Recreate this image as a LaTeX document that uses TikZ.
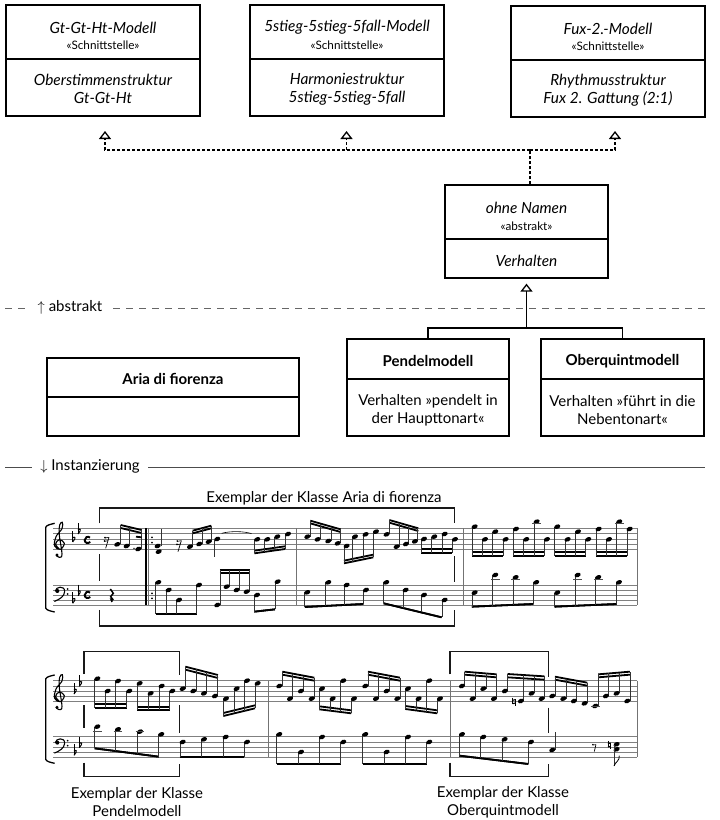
\documentclass[tikz,border=0pt]{standalone}
\usepackage{fontspec}
\setmainfont{Lato}
\usetikzlibrary{arrows.meta,calc}
\tikzset{x=1pt,y=-1pt,
 umlbox/.style={draw=black,line width=1.3pt,fill=white,inner sep=0pt,minimum width=#1},
 t1/.style={font=\fontsize{15.4}{18}\selectfont\itshape,align=center,inner sep=0pt},
 t2/.style={font=\fontsize{11.7}{13}\selectfont,inner sep=0pt},
 t3/.style={font=\fontsize{15}{18}\selectfont,align=center,inner sep=0pt},
 t4/.style={font=\fontsize{15}{18}\selectfont\bfseries,inner sep=0pt},
 div/.style={line width=1.1pt},
 real/.style={line width=1.3pt,dash pattern=on 3pt off 2pt},
 gen/.style={line width=1.3pt},
 tip/.style={-{Triangle[open,width=12pt,length=8pt,line width=1.3pt]}},
 stf/.style={line width=.6pt,black!50},
 bar/.style={line width=.7pt,black!55},
 stem/.style={line width=.6pt,black!80},
 beam/.style={line width=1.8pt,black},
 led/.style={line width=.7pt,black!70},
 brk/.style={line width=1.3pt,black!90},
 clef/.style={line width=1.1pt,black,line cap=round},
}
\newcommand\nh[2]{\fill[rotate around={22:(#1,#2)}] (#1,#2) ellipse [x radius=9.5,y radius=6.5];}
\newcommand\grp[7]{%
 \draw[beam] (#2,#3)--(#4,#5);
 \draw[beam] (#2,#3+#6)--(#4,#5+#6);
 \foreach \nx/\ny in {#7}{%
  \pgfmathsetmacro\ye{#3+(\nx+(#1)-#2)*(#5-#3)/(#4-#2)}%
  \draw[stem] (\nx+#1,\ny)--(\nx+#1,\ye);
  \nh{\nx}{\ny}}}
\newcommand\ledg[2]{\draw[led] (#1-13,#2)--(#1+13,#2);}
\newcommand\flt[2]{\draw[line width=.6pt] (#1,#2-24)--(#1,#2+9);
 \draw[line width=1pt] (#1,#2-3) .. controls (#1+5,#2-9) and (#1+13,#2-5) .. (#1,#2+9);}
\newcommand\mctime[2]{\draw[line width=1.9pt] (#1+8,#2-7) .. controls (#1+2,#2-13) and (#1-8,#2-8) .. (#1-8,#2) .. controls (#1-8,#2+9) and (#1+2,#2+12) .. (#1+9,#2+6);}
\newcommand\trebclef[1]{\begin{scope}[yshift=#1pt]
 \draw[clef] plot[smooth,tension=.65] coordinates {(177,206) (167,192) (178,179) (193,190) (181,208) (164,198) (168,170) (186,146) (187,127) (179,135) (178,165) (186,222) (178,232) (169,226)};
 \fill (171,225) circle [radius=5];
 \end{scope}}
\newcommand\bassclef[1]{\begin{scope}[yshift=#1pt]
 \fill (172,333) circle [radius=6];
 \draw[clef] (166,333) .. controls (167,320) and (195,315) .. (194,335) .. controls (193,350) and (178,358) .. (164,364);
 \fill (203,327) circle [radius=2.8]; \fill (203,342) circle [radius=2.8];
 \end{scope}}
\newcommand\sbrk[3]{\draw[line width=1.3pt] (#1+27,#2) .. controls (#1+14,#2+3) and (#1+3,#2+5) .. (#1,#2+12) -- (#1,#3-12) .. controls (#1+3,#3-5) and (#1+14,#3-3) .. (#1+27,#3);}
\newcommand\srest[2]{\draw[line width=.7pt] (#1+7,#2-13)--(#1-3,#2+20); \fill (#1-5,#2-12) circle [radius=2.8]; \fill (#1-6,#2-2) circle [radius=2.8];\draw[line width=.6pt] (#1-5,#2-11)--(#1+7,#2-13);\draw[line width=.6pt] (#1-6,#2-1)--(#1+4,#2-3);}
\newcommand\natsign[2]{\draw[line width=.6pt] (#1-4,#2-12)--(#1-4,#2+7) (#1+4,#2-7)--(#1+4,#2+12);\draw[line width=1.1pt] (#1-4,#2-4)--(#1+4,#2-6) (#1-4,#2+6)--(#1+4,#2+4);}
\begin{document}
\begin{tikzpicture}
\useasboundingbox (0,0) rectangle (720,820);
\fill[white] (0,0) rectangle (720,820);
% ---------- top interface boxes
\node[umlbox=194pt,minimum height=111pt] (b1) at (103,60.5) {};
\node[umlbox=194pt,minimum height=111pt] (b2) at (347,60.5) {};
\node[umlbox=194pt,minimum height=111pt] (b3) at (608,61.5) {};
\draw[div] (b1.west |- 0,59) -- (b1.east |- 0,59);
\draw[div] (b2.west |- 0,59) -- (b2.east |- 0,59);
\draw[div] (b3.west |- 0,60) -- (b3.east |- 0,60);
\node[t1] (n1) at (103,27.5) {Gt-Gt-Ht-Modell};
\node[t2] (s1) at (103,45.5) {«Schnittstelle»};
\node[t1] (o1) at (103,89) {Oberstimmenstruktur\\Gt-Gt-Ht};
\node[t1] (n2) at (347,27.5) {5stieg-5stieg-5fall-Modell};
\node[t2] (s2) at (347,45.5) {«Schnittstelle»};
\node[t1] (o2) at (347,89) {Harmoniestruktur\\5stieg-5stieg-5fall};
\node[t1] (n3) at (608,28.5) {Fux-2.-Modell};
\node[t2] (s3) at (608,46.5) {«Schnittstelle»};
\node[t1] (o3) at (608,90) {Rhythmusstruktur\\Fux 2. Gattung (2:1)};
% ---------- abstract box
\node[umlbox=163pt,minimum height=93pt] (b4) at (526.5,231.5) {};
\draw[div] (b4.west |- 0,239) -- (b4.east |- 0,239);
\node[t1] (n4) at (526.5,207.5) {ohne Namen};
\node[t2] (s4) at (526.5,226) {«abstrakt»};
\node[t1] (o4) at (526.5,260.5) {Verhalten};
% ---------- realisation connectors
\coordinate (a1) at (105,131);
\coordinate (a2) at (346.5,131);
\coordinate (a3) at (615,131);
\coordinate (j1) at (530,150);
\draw[real] (b4.north -| j1) -- (j1);
\draw[real,tip] (j1) -| (a1);
\draw[real,tip] (j1) -| (a3);
\draw[real,tip] (a2 |- j1) -- (a2);
% ---------- level lines
\node[t3] (lab1) at (70,307) {$\uparrow$ abstrakt};
\node[t3] (lab2) at (90,466) {$\downarrow$ Instanzierung};
\draw[line width=.9pt,black!60,dash pattern=on 6.5pt off 6.5pt] (5,308) -- (25,308) ;
\draw[line width=.9pt,black!60,dash pattern=on 6.5pt off 6.5pt] (113,308) -- (706,308);
\draw[line width=.9pt,black!70] (5,467) -- (32,467);
\draw[line width=.9pt,black!70] (148,467) -- (705,467);
% ---------- concrete boxes
\node[umlbox=252pt,minimum height=78pt] (b7) at (173,397) {};
\draw[div] (b7.west |- 0,397) -- (b7.east |- 0,397);
\node[t4] (n7) at (173,379) {Aria di fiorenza};
\node[umlbox=162pt,minimum height=97pt] (b5) at (428,387.5) {};
\draw[div] (b5.west |- 0,379) -- (b5.east |- 0,379);
\node[t4] (n5) at (428,361) {Pendelmodell};
\node[t3] (o5) at (428,410) {Verhalten »pendelt in\\der Haupttonart«};
\node[umlbox=163pt,minimum height=97pt] (b6) at (622.5,387.5) {};
\draw[div] (b6.west |- 0,379) -- (b6.east |- 0,379);
\node[t4] (n6) at (622.5,361) {Oberquintmodell};
\node[t3] (o6) at (622.5,410) {Verhalten »führt in die\\Nebentonart«};
\coordinate (j2) at (526.5,328);
\draw[gen] (b5.north) |- (j2) -| (b6.north);
\draw[gen,tip,shorten >=5pt] (j2) -- (b4.south);
% ---------- captions
\node[t3] (c1) at (324,498) {Exemplar der Klasse Aria di fiorenza};
\node[t3] (c2) at (137,802) {Exemplar der Klasse\\Pendelmodell};
\node[t3] (c3) at (503,802) {Exemplar der Klasse\\Oberquintmodell};
% ---------- system 1
\begin{scope}[shift={(0,480)},x=.3333pt,y=-.3333pt]
 \foreach \yy in {145,161,177,192,208,315,330,345,361,376}
   \draw[stf] (160,\yy)--(1912,\yy);
 \foreach \xx in {890,1390,1912} \draw[bar] (\xx,145)--(\xx,376);
 \draw[line width=2pt] (439,145)--(439,376);
 \draw[bar] (446,145)--(446,376);
 \foreach \yy in {172,188,340,355} \fill (456,\yy) circle [radius=3];
 \sbrk{137}{130}{396}
 \trebclef{0}
 \bassclef{0}
 \flt{218}{177}\flt{234}{153}\flt{218}{361}\flt{234}{338}
 \mctime{262}{180}\mctime{262}{345}
 \srest{320}{185}
 \grp{8}{362}{135}{425}{150}{9}{352/193,380/198,415/207}
 \draw[beam] (408,170)--(425,172);
 \fill (402,205) circle [radius=2.4];
 % quarter rest
 \draw[line width=1.5pt] (331,327)--(340,340)--(332,350)--(340,360) (340,360)--(333,358)--(336,366);
 % m1 treble
 \nh{473}{198}\nh{476}{215}\draw[stem] (484,198)--(484,148);
 \srest{537}{195}
 \grp{8}{578}{152}{634}{137}{8}{570/200,598/192,626/185}
 \nh{652}{177}\draw[stem] (642,177)--(642,230);
 \draw[line width=.6pt] (665,160) .. controls (690,153) and (730,153) .. (755,161);
 \grp{-8}{763}{220}{855}{207}{-8}{772/178,802/178,832/170,864/162}
 \grp{8}{931}{122}{1022}{148}{8}{922/170,953/178,985/183,1013/190}
 \grp{-8}{1032}{250}{1120}{232}{-8}{1040/198,1065/170,1097/163,1128/155}
 \grp{8}{1168}{120}{1255}{145}{8}{1160/163,1190/200,1218/192,1245/184}
 \grp{-8}{1264}{219}{1356}{219}{-11}{1272/177,1303/170,1334/162,1365/178}
 \grp{-8}{1416}{228}{1508}{228}{-11}{1424/140,1455/178,1486/155,1517/178}
 \grp{-8}{1540}{228}{1632}{228}{-11}{1548/147,1579/178,1610/125,1641/178}
 \grp{-8}{1664}{228}{1757}{228}{-11}{1672/140,1703/178,1734/155,1765/178}
 \grp{-8}{1788}{228}{1881}{228}{-11}{1796/147,1827/178,1858/125,1889/147}
 \ledg{1610}{131}\ledg{1858}{131}
 % bass
 \grp{-8}{468}{402}{590}{402}{0}{475/307,506/330,537/360,597/315}
 \grp{8}{660}{270}{750}{270}{8}{652/375,680/320,710/330,740/335}
 \grp{-8}{763}{395}{825}{388}{0}{771/345,833/305}
 \grp{-8}{915}{381}{1090}{372}{0}{922/337,985/307,1040/315,1098/330}
 \grp{-8}{1151}{370}{1325}{412}{0}{1159/307,1217/330,1272/345,1334/360}
 \grp{-8}{1416}{380}{1600}{372}{0}{1424/338,1486/285,1547/292,1609/307}
 \grp{-8}{1664}{380}{1850}{372}{0}{1672/338,1733/285,1795/292,1857/307}
 \ledg{1486}{299}\ledg{1547}{299}\ledg{1733}{299}\ledg{1795}{299}
 % bracket
 \draw[brk] (298,130)--(298,84)--(1364,84)--(1364,130) (298,222)--(298,302) (1364,228)--(1364,305) (298,390)--(298,438)--(1364,438)--(1364,390);
\end{scope}
% ---------- system 2
\begin{scope}[shift={(0,640)},x=.3333pt,y=-.3333pt]
 \foreach \yy in {122,137.5,153,168.5,184,290,305.5,321,336.5,352}
   \draw[stf] (160,\yy)--(1912,\yy);
 \foreach \xx in {806,1352,1912} \draw[bar] (\xx,122)--(\xx,352);
 \sbrk{137}{105}{370}
 \trebclef{7.6667}
 \bassclef{8.3333}
 \flt{222}{153}\flt{238}{130}\flt{222}{337}\flt{238}{314}
 \grp{-8}{284}{203}{380}{203}{-11}{292/116,323/153,354/123,388/153}
 \grp{-8}{412}{211}{509}{211}{-11}{419/130,452/160,485/138,517/153}
 \grp{8}{556}{80}{654}{105}{9}{548/146,580/153,612/160,645/168}
 \grp{-8}{670}{228}{765}{205}{-9}{678/176,710/146,741/122,773/130}
 \grp{8}{847}{95}{943}{113}{9}{838/138,870/176,903/153,935/176}
 \grp{-8}{958}{208}{1054}{220}{-9}{966/146,998/176,1030/122,1062/176}
 \grp{8}{1104}{95}{1200}{113}{9}{1096/138,1128/176,1160/153,1192/176}
 \grp{-8}{1216}{207}{1312}{220}{-9}{1224/146,1256/176,1288/122,1320/176}
 \grp{8}{1394}{95}{1490}{103}{9}{1386/138,1418/176,1450/146,1482/176}
 \grp{8}{1523}{102}{1633}{109}{10}{1515/153,1563/183,1595/160,1625/176}
 \grp{8}{1665}{110}{1762}{128}{9}{1657/168,1690/176,1722/183,1754/190}
 \grp{8}{1795}{103}{1890}{95}{9}{1786/198,1818/168,1850/160,1882/183}
 \ledg{1786}{200}
 \natsign{1542}{185}
 % bass
 \grp{-8}{284}{325}{476}{350}{0}{292/260,354/268,420/275,484/283}
 \ledg{292}{274}\ledg{354}{274}\ledg{420}{274}
 \grp{-8}{540}{350}{733}{350}{0}{548/306,612/298,677/291,741/306}
 \grp{-8}{831}{372}{1023}{372}{0}{838/283,903/336,966/291,1030/306}
 \grp{-8}{1088}{372}{1280}{372}{0}{1096/283,1160/336,1224/291,1288/306}
 \grp{-8}{1378}{347}{1585}{372}{0}{1386/283,1450/291,1514/298,1593/306}
 \nh{1657}{330}\draw[stem] (1665,330)--(1665,276);
 \draw[line width=.7pt] (1788,314)--(1783,335); \fill (1779,314) circle [radius=2.6];\draw[line width=.6pt] (1779,315)--(1788,314);
 \natsign{1828}{315}
 \nh{1850}{313}\nh{1850}{328}
 \draw[stem] (1842,315)--(1842,378);
 \draw[line width=.8pt] (1842,378) .. controls (1846,366) and (1860,362) .. (1858,347);
 % brackets
 \draw[brk] (252,102)--(252,35)--(538,35)--(538,105) (252,195)--(252,265) (538,195)--(538,280) (252,368)--(252,410)--(538,410)--(538,372);
 \draw[brk] (1350,103)--(1350,35)--(1645,35)--(1645,112) (1645,203)--(1645,278) (1350,368)--(1350,410)--(1645,410)--(1645,372);
\end{scope}
\end{tikzpicture}
\end{document}
